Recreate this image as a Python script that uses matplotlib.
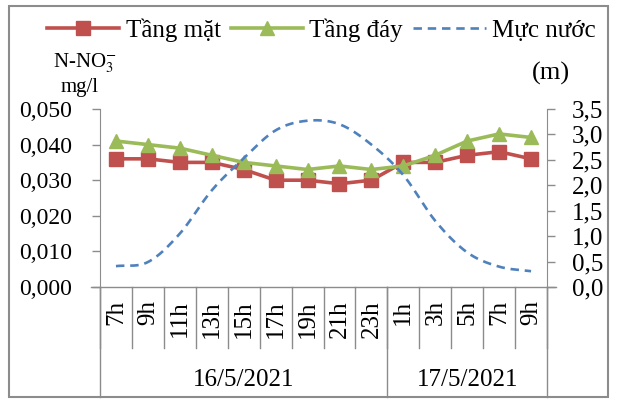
import numpy as np
import matplotlib
matplotlib.use("Agg")
import matplotlib.pyplot as plt
from matplotlib.lines import Line2D
import matplotlib.transforms as mtransforms

plt.rcParams["font.family"] = ["Liberation Serif", "DejaVu Serif"]
plt.rcParams["mathtext.fontset"] = "stix"

# Sampling hours over the two days
HOURS = ["7h", "9h", "11h", "13h", "15h", "17h", "19h", "21h", "23h",
         "1h", "3h", "5h", "7h", "9h"]
DATES = ["16/5/2021", "17/5/2021"]
DAY_SIZES = [9, 5]

# N-NO3- concentration (mg/l)
SURFACE = [0.036, 0.036, 0.035, 0.035, 0.033, 0.030, 0.030, 0.029, 0.030,
           0.035, 0.035, 0.037, 0.038, 0.036]
BOTTOM = [0.041, 0.040, 0.039, 0.037, 0.035, 0.034, 0.033, 0.034, 0.033,
          0.034, 0.037, 0.041, 0.043, 0.042]
# Water level (m)
WATER = [0.41, 0.49, 1.05, 1.9, 2.53, 3.08, 3.27, 3.2, 2.8,
         2.2, 1.3, 0.68, 0.40, 0.31]

RED = "#C0504D"
GREEN = "#9BBB59"
BLUE = "#4F81BD"
GREY = "#8C8C8C"
DASH = (0, (3.2, 2.2))


def smooth(xs, ys, n=20):
    # Catmull-Rom curve through the points, like a smoothed line in a spreadsheet
    xs = np.asarray(xs, float)
    ys = np.asarray(ys, float)
    px = np.concatenate([[2 * xs[0] - xs[1]], xs, [2 * xs[-1] - xs[-2]]])
    py = np.concatenate([[2 * ys[0] - ys[1]], ys, [2 * ys[-1] - ys[-2]]])
    out_x, out_y = [], []
    t = np.linspace(0, 1, n, endpoint=False)
    for i in range(1, len(px) - 2):
        for arr, out in ((px, out_x), (py, out_y)):
            p0, p1, p2, p3 = arr[i - 1], arr[i], arr[i + 1], arr[i + 2]
            out.extend(0.5 * (2 * p1 + (-p0 + p2) * t
                              + (2 * p0 - 5 * p1 + 4 * p2 - p3) * t ** 2
                              + (-p0 + 3 * p1 - 3 * p2 + p3) * t ** 3))
    out_x.append(xs[-1])
    out_y.append(ys[-1])
    return np.array(out_x), np.array(out_y)


fig = plt.figure(figsize=(6.2, 4.01), dpi=100)
ax = fig.add_axes([0.1613, 0.2843, 0.721, 0.4439])
ax2 = ax.twinx()

x = np.arange(len(HOURS))
ax.plot(x, SURFACE, color=RED, lw=2.6, marker="s", ms=10, zorder=3)
ax.plot(x, BOTTOM, color=GREEN, lw=2.6, marker="^", ms=10, zorder=4)
sx, sy = smooth(x, WATER)
ax2.plot(sx, sy, color=BLUE, lw=1.9, ls=DASH)

ax.set_xlim(-0.5, len(HOURS) - 0.5)
ax.set_ylim(0, 0.05)
ax.set_yticks(np.arange(0, 0.0501, 0.01))
ax.set_yticklabels([f"{v:.3f}".replace(".", ",") for v in np.arange(0, 0.0501, 0.01)])
ax2.set_ylim(0, 3.5)
ax2.set_yticks(np.arange(0, 3.51, 0.5))
ax2.set_yticklabels([f"{v:.1f}".replace(".", ",") for v in np.arange(0, 3.51, 0.5)])

for a in (ax, ax2):
    for side in ("top", "bottom"):
        a.spines[side].set_visible(False)
    a.spines["left"].set_color(GREY)
    a.spines["right"].set_color(GREY)
ax.tick_params(axis="y", direction="out", length=6, width=1, color=GREY,
               labelsize=17, pad=14)
ax2.tick_params(axis="y", direction="out", length=6, width=1, color=GREY,
                labelsize=18, pad=12)
ax.spines["right"].set_visible(False)
ax2.spines["left"].set_visible(False)
ax.set_xticks([])

# category axis: baseline, hour separators and date groups
trans = mtransforms.blended_transform_factory(ax.transData, ax.transAxes)
ax.plot([-0.5 - 0.27, len(HOURS) - 0.5 + 0.27], [0, 0], color=GREY, lw=1,
        transform=trans, clip_on=False)
for b in np.arange(-0.5, len(HOURS), 1.0):
    ax.plot([b, b], [0, -0.34], color=GREY, lw=1, transform=trans, clip_on=False)
for i, h in enumerate(HOURS):
    ax.text(i, -0.075, h, rotation=90, ha="center", va="top", fontsize=18,
            transform=trans)
bounds = [-0.5]
for size in DAY_SIZES:
    bounds.append(bounds[-1] + size)
for b in bounds:
    ax.plot([b, b], [0, -0.62], color=GREY, lw=1, transform=trans, clip_on=False)
for d, lo, hi in zip(DATES, bounds[:-1], bounds[1:]):
    ax.text((lo + hi) / 2, -0.52, d, ha="center", va="center", fontsize=18,
            transform=trans)

# axis titles
fig.text(0.137, 0.842, "N-NO$_3^{-}$", ha="center", va="center", fontsize=15)
fig.text(0.129, 0.782, "mg/l", ha="center", va="center", fontsize=15)
fig.text(0.889, 0.818, "(m)", ha="center", va="center", fontsize=19)

handles = [
    Line2D([], [], color=RED, lw=2.6, marker="s", ms=10),
    Line2D([], [], color=GREEN, lw=2.6, marker="^", ms=10),
    Line2D([], [], color=BLUE, lw=1.9, ls=DASH),
]
fig.legend(handles, ["Tầng mặt", "Tầng đáy", "Mực nước"], ncol=3,
           loc="center", bbox_to_anchor=(0.518, 0.925), frameon=False,
           fontsize=18, handlelength=2.9, handletextpad=0.25, columnspacing=0.4)

# outer frame
fig.patches.append(plt.Rectangle((0.0145, 0.01), 0.9665, 0.975,
                                 transform=fig.transFigure,
                                 fill=False, edgecolor=GREY, lw=1.5))

fig.savefig("out.png", dpi=100)
